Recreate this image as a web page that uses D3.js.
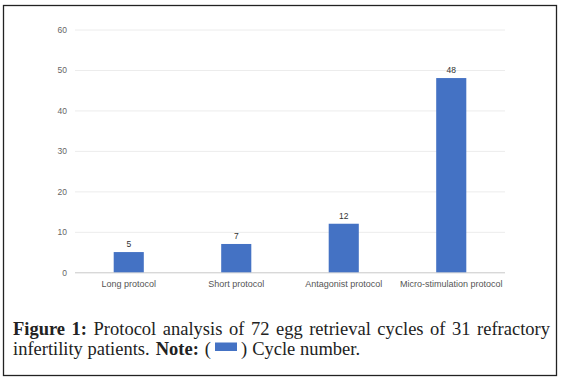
<!DOCTYPE html>
<html><head><meta charset="utf-8">
<script src="https://cdn.jsdelivr.net/npm/d3@7"></script>
<style>body{margin:0;background:#fff}svg{display:block}</style>
</head><body>
<script>
const categories = ["Long protocol","Short protocol","Antagonist protocol","Micro-stimulation protocol"];
const values = [5,7,12,48];
const yTicks = [0,10,20,30,40,50,60];
const seriesName = "Cycle number.";

const W=562,H=381;
const svg=d3.select("body").append("svg").attr("width",W).attr("height",H);
svg.append("rect").attr("x",3.5).attr("y",5.5).attr("width",553).attr("height",370).attr("fill","#fff").attr("stroke","#222").attr("stroke-width",1.3);

const x=d3.scaleBand().domain(categories).range([75,505]).paddingInner(0.72).paddingOuter(0.36);
const y=d3.scaleLinear().domain([0,60]).range([272.3,29.5]);
const color="#4472c4";
const axisFont="'Liberation Sans', Arial, sans-serif";

// gridlines + y labels
const ya=svg.append("g").attr("transform","translate(75,0)")
 .call(d3.axisLeft(y).tickValues(yTicks).tickSize(-430).tickPadding(8));
ya.select(".domain").remove();
ya.selectAll(".tick line").attr("stroke",d=>d===0?"#c8c8c8":"#ececec");
ya.selectAll(".tick text").attr("fill","#666").style("font-family",axisFont).style("font-size","8.5px");

// bars
svg.selectAll(".bar").data(values).join("rect").attr("class","bar")
 .attr("x",(d,i)=>x(categories[i])).attr("width",x.bandwidth())
 .attr("y",d=>y(d)).attr("height",d=>y(0)-y(d)).attr("fill",color);
svg.selectAll(".vl").data(values).join("text").attr("class","vl")
 .attr("x",(d,i)=>x(categories[i])+x.bandwidth()/2).attr("y",d=>y(d)-5)
 .attr("text-anchor","middle").attr("fill","#333").style("font-family",axisFont).style("font-size","8.5px").text(d=>d);

// x labels
const xa=svg.append("g").attr("transform","translate(0,272.3)").call(d3.axisBottom(x).tickSize(0).tickPadding(8));
xa.select(".domain").remove();
xa.selectAll(".tick text").attr("fill","#555").style("font-family",axisFont).style("font-size","9px");

// caption
const capFont="'Liberation Serif','Times New Roman',serif";
const fs=18.5;
const line1=[{t:"Figure",b:true},{t:"1:",b:true},{t:"Protocol"},{t:"analysis"},{t:"of"},{t:"72"},{t:"egg"},{t:"retrieval"},{t:"cycles"},{t:"of"},{t:"31"},{t:"refractory"}];
const g1=svg.append("g");
const nodes=line1.map(w=>g1.append("text").attr("y",334.5).style("font-family",capFont).style("font-size",fs+"px").attr("font-weight",w.b?"bold":"normal").attr("fill","#222").text(w.t));
const widths=nodes.map(n=>n.node().getComputedTextLength());
const total=d3.sum(widths), x0=13, x1=550;
const gap=(x1-x0-total)/(nodes.length-1);
let cx=x0;
nodes.forEach((n,i)=>{n.attr("x",cx);cx+=widths[i]+gap;});

const t2=(txt,xx,b)=>svg.append("text").attr("x",xx).attr("y",354.5).style("font-family",capFont).style("font-size",fs+"px").attr("font-weight",b?"bold":"normal").attr("fill","#222").text(txt);
let px=13;
let n=t2("infertility patients.",px,false); px+=n.node().getComputedTextLength()+6;
n=t2("Note:",px,true); px+=n.node().getComputedTextLength()+6;
n=t2("(",px,false); px+=n.node().getComputedTextLength()+4;
svg.append("rect").attr("x",px).attr("y",342.5).attr("width",22).attr("height",8.5).attr("fill",color); px+=26;
n=t2(")",px,false); px+=n.node().getComputedTextLength()+5;
t2(seriesName,px,false);
</script>
</body></html>
